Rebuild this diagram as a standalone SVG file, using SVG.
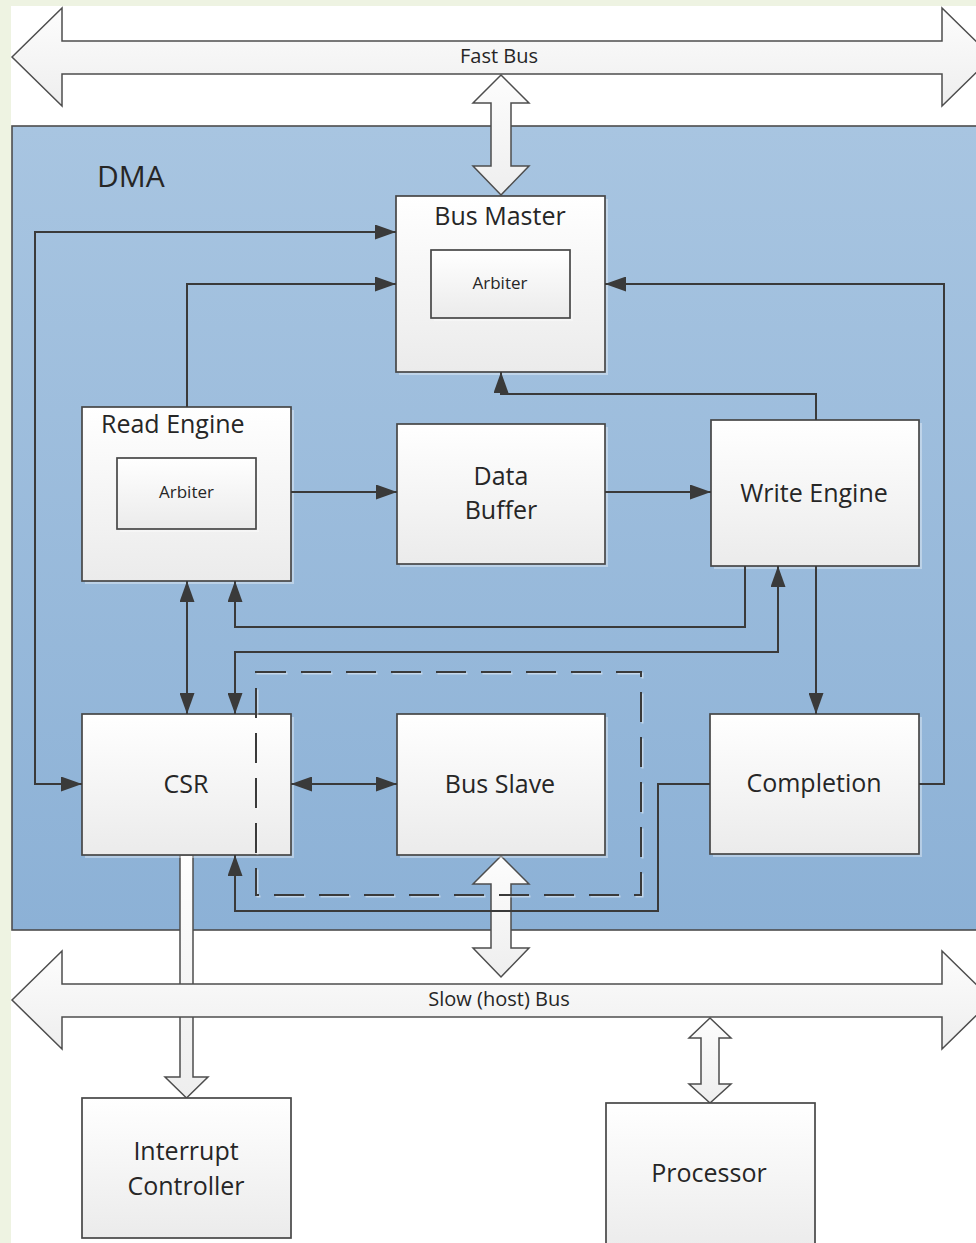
<svg xmlns="http://www.w3.org/2000/svg" width="976" height="1243" viewBox="0 0 976 1243">
  <defs>
    <linearGradient id="dmaFill" x1="0" y1="0" x2="0" y2="1">
      <stop offset="0" stop-color="#a8c5e1"/>
      <stop offset="1" stop-color="#8cb1d6"/>
    </linearGradient>
    <linearGradient id="boxFill" x1="0" y1="0" x2="0" y2="1">
      <stop offset="0" stop-color="#ffffff"/>
      <stop offset="1" stop-color="#ebebeb"/>
    </linearGradient>
    <linearGradient id="busFill" x1="0" y1="0" x2="0" y2="1">
      <stop offset="0" stop-color="#fdfdfd"/>
      <stop offset="1" stop-color="#eeeeee"/>
    </linearGradient>
    <marker id="head" markerUnits="userSpaceOnUse" markerWidth="21" markerHeight="15" refX="21" refY="7.5" orient="auto-start-reverse">
      <path d="M0,0 L21,7.5 L0,15 Z" fill="#3a3a3a"/>
    </marker>
  </defs>
  <style>
    .box { fill: url(#boxFill); stroke: #474747; stroke-width: 1.7; }
    .shadow { fill: #ffffff; opacity: 0.35; }
    .bus { fill: url(#busFill); stroke: #4d4d4d; stroke-width: 1.5; stroke-linejoin: miter; }
    .wire { fill: none; stroke: #3a3a3a; stroke-width: 2; }
    .label { font-family: "Open Sans", "Noto Sans", sans-serif; fill: #262626; font-size: 25px; }
    .small { font-size: 17px; }
    .buslabel { font-family: "Open Sans", "Noto Sans", sans-serif; fill: #262626; font-size: 20px; }
    .mid { text-anchor: middle; }
  </style>

  <!-- page -->
  <rect x="0" y="0" width="976" height="1243" fill="#eef3e2"/>
  <rect x="11" y="6" width="965" height="1237" fill="#ffffff"/>

  <!-- Fast Bus -->
  <g id="fast-bus">
    <polygon class="bus" points="12,57 62,8 62,41 942,41 942,8 992,57 942,106 942,74 62,74 62,106"/>
    <text class="buslabel mid" x="499" y="63">Fast Bus</text>
  </g>

  <!-- DMA block -->
  <g id="dma">
    <rect x="12" y="126" width="972" height="804" fill="url(#dmaFill)" stroke="#4d4d4d" stroke-width="1.6"/>
    <text class="label" x="97" y="187" style="font-size:30px">DMA</text>
  </g>

  <!-- Fast Bus <-> Bus Master -->
  <g id="fast-bus-link">
    <polygon class="bus" points="501,75 529,103 511,103 511,166 529,166 501,195 473,166 491,166 491,103 473,103"/>
  </g>

  <!-- CSR -> Interrupt Controller -->
  <g id="irq-link">
    <polygon class="bus" points="180,855 193,855 193,1077 208,1077 186.5,1098 165,1077 180,1077"/>
  </g>

  <!-- Slow (host) Bus -->
  <g id="slow-bus">
    <polygon class="bus" points="12,1000 62,951 62,984 942,984 942,951 992,1000 942,1049 942,1017 62,1017 62,1049"/>
    <text class="buslabel mid" x="499" y="1006">Slow (host) Bus</text>
  </g>

  <!-- Slow Bus <-> Bus Slave -->
  <g id="slow-bus-link">
    <polygon class="bus" points="501,856 529,884 511,884 511,948 529,948 501,977 473,948 491,948 491,884 473,884"/>
  </g>

  <!-- Slow Bus <-> Processor -->
  <g id="processor-link">
    <polygon class="bus" points="710,1018 731,1038 719,1038 719,1084 731,1084 710,1103 689,1084 701,1084 701,1038 689,1038"/>
  </g>

  <!-- nodes -->
  <g id="bus-master">
    <rect class="shadow" x="399" y="199" width="209" height="176"/>
    <rect class="box" x="396" y="196" width="209" height="176"/>
    <text class="label mid" x="500" y="225">Bus Master</text>
    <rect class="shadow" x="434" y="253" width="139" height="68"/>
    <rect class="box" x="431" y="250" width="139" height="68"/>
    <text class="label small mid" x="500" y="289">Arbiter</text>
  </g>

  <g id="read-engine">
    <rect class="shadow" x="85" y="410" width="209" height="174"/>
    <rect class="box" x="82" y="407" width="209" height="174"/>
    <text class="label" x="101" y="433">Read Engine</text>
    <rect class="shadow" x="120" y="461" width="139" height="71"/>
    <rect class="box" x="117" y="458" width="139" height="71"/>
    <text class="label small mid" x="186.5" y="498">Arbiter</text>
  </g>

  <g id="data-buffer">
    <rect class="shadow" x="400" y="427" width="208" height="140"/>
    <rect class="box" x="397" y="424" width="208" height="140"/>
    <text class="label mid" x="501" y="485">Data</text>
    <text class="label mid" x="501" y="519">Buffer</text>
  </g>

  <g id="write-engine">
    <rect class="shadow" x="714" y="423" width="208" height="146"/>
    <rect class="box" x="711" y="420" width="208" height="146"/>
    <text class="label mid" x="814" y="502">Write Engine</text>
  </g>

  <g id="csr">
    <rect class="shadow" x="85" y="717" width="209" height="141"/>
    <rect class="box" x="82" y="714" width="209" height="141"/>
    <text class="label mid" x="186" y="793">CSR</text>
  </g>

  <g id="bus-slave">
    <rect class="shadow" x="400" y="717" width="208" height="141"/>
    <rect class="box" x="397" y="714" width="208" height="141"/>
    <text class="label mid" x="500" y="793">Bus Slave</text>
  </g>

  <g id="completion">
    <rect class="shadow" x="713" y="717" width="209" height="140"/>
    <rect class="box" x="710" y="714" width="209" height="140"/>
    <text class="label mid" x="814" y="792">Completion</text>
  </g>

  <g id="interrupt-controller">
    <rect class="shadow" x="85" y="1101" width="209" height="140"/>
    <rect class="box" x="82" y="1098" width="209" height="140"/>
    <text class="label mid" x="186" y="1160">Interrupt</text>
    <text class="label mid" x="186" y="1195">Controller</text>
  </g>

  <g id="processor">
    <rect class="shadow" x="609" y="1106" width="209" height="150"/>
    <rect class="box" x="606" y="1103" width="209" height="150"/>
    <text class="label mid" x="709" y="1182">Processor</text>
  </g>

  <!-- connectors -->
  <g id="connectors">
    <path class="wire" d="M82,784 H35 V232 H396" marker-start="url(#head)" marker-end="url(#head)"/>
    <path class="wire" d="M187,407 V284 H396" marker-end="url(#head)"/>
    <path class="wire" d="M919,784 H944 V284 H605" marker-end="url(#head)"/>
    <path class="wire" d="M816,420 V394 H501 V372" marker-end="url(#head)"/>
    <path class="wire" d="M291,492 H397" marker-end="url(#head)"/>
    <path class="wire" d="M605,492 H711" marker-end="url(#head)"/>
    <path class="wire" d="M745,566 V627 H235 V581" marker-end="url(#head)"/>
    <path class="wire" d="M187,581 V714" marker-start="url(#head)" marker-end="url(#head)"/>
    <path class="wire" d="M235,714 V652 H778 V566" marker-start="url(#head)" marker-end="url(#head)"/>
    <path class="wire" d="M816,566 V714" marker-end="url(#head)"/>
    <path class="wire" d="M291,784 H397" marker-start="url(#head)" marker-end="url(#head)"/>
    <path class="wire" d="M710,784 H658 V911 H235 V855" marker-end="url(#head)"/>
  </g>

  <!-- slave-side boundary -->
  <g id="slave-boundary">
    <rect x="257.5" y="673.5" width="385" height="223" fill="none" stroke="#ffffff" stroke-opacity="0.45" stroke-width="2" stroke-dasharray="30 15"/>
    <rect x="256" y="672" width="385" height="223" fill="none" stroke="#3a3a3a" stroke-width="2" stroke-dasharray="30 15"/>
  </g>
</svg>
